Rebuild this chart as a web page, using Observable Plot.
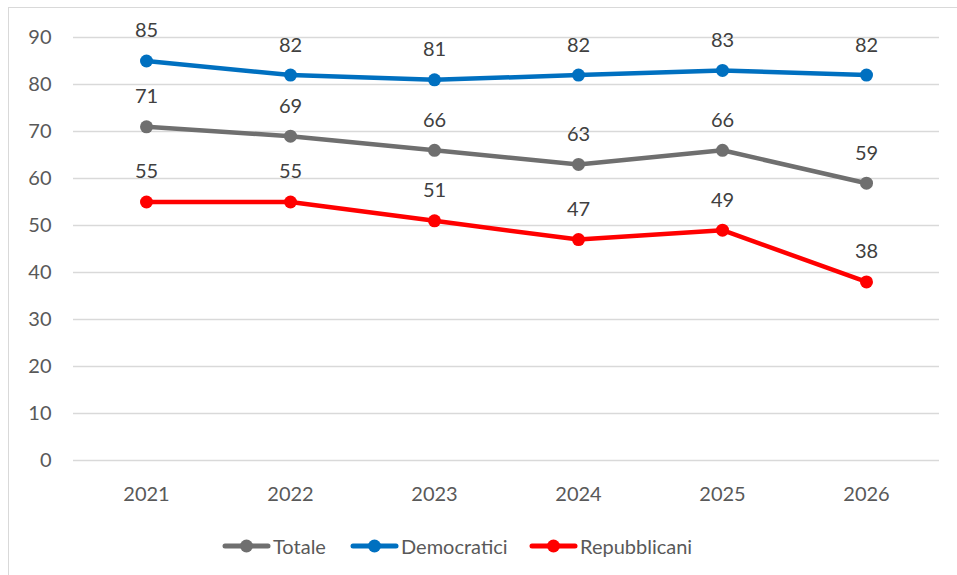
<!DOCTYPE html>
<html><head><meta charset="utf-8">
<script src="https://cdn.jsdelivr.net/npm/d3@7"></script>
<script src="https://cdn.jsdelivr.net/npm/@observablehq/plot@0.6"></script>
<style>
body{margin:0;background:#fff;font-family:Lato,"Open Sans",sans-serif;}
#frame{position:absolute;left:8px;top:7px;width:1100px;height:700px;border:1px solid #d9d9d9;box-sizing:border-box;}
#chart{position:absolute;left:0;top:0;}
#legend{position:absolute;left:0;top:534px;width:957px;height:24px;}
.item{position:absolute;top:0;display:flex;align-items:center;font-size:20px;color:#595959;}
</style></head>
<body>
<div id="frame"></div>
<div id="chart"></div>
<div id="legend"></div>
<script>
const years = ["2021","2022","2023","2024","2025","2026"];
const seriesNames = ["Totale","Democratici","Repubblicani"];
const totale = [71,69,66,63,66,59];
const democratici = [85,82,81,82,83,82];
const repubblicani = [55,55,51,47,49,38];
const colors = ["#6f6f6f","#0070c0","#ff0000"];
const yTicks = [0,10,20,30,40,50,60,70,80,90];

const valuesBySeries = [totale, democratici, repubblicani];
const data = [];
seriesNames.forEach((s,i)=>years.forEach((y,j)=>data.push({series:s, year:y, value:valuesBySeries[i][j]})));

const plot = Plot.plot({
  width:957, height:520,
  marginLeft:73, marginRight:18, marginTop:37, marginBottom:60,
  style:{fontFamily:"Lato, 'Open Sans', sans-serif", fontSize:"20px", color:"#595959", background:"transparent"},
  x:{type:"point", domain:years, padding:0.5, label:null},
  y:{domain:[0,90], label:null},
  color:{domain:seriesNames, range:colors},
  marks:[
    Plot.gridY(yTicks,{stroke:"#d9d9d9", strokeOpacity:1, strokeWidth:1.5}),
    Plot.axisX({tickSize:0, tickPadding:26, fontSize:20, fill:"#595959"}),
    Plot.axisY({ticks:yTicks, tickSize:0, tickPadding:22, fontSize:20, fill:"#595959"}),
    Plot.line(data,{x:"year", y:"value", z:"series", stroke:"series", strokeWidth:4.5}),
    Plot.dot(data,{x:"year", y:"value", fill:"series", r:6.5}),
    Plot.text(data,{x:"year", y:"value", text:d=>String(d.value), dy:-30, fill:"#404040", fontSize:20})
  ]
});
document.getElementById("chart").appendChild(plot);

const legendPos = [222, 350, 529];
const leg = document.getElementById("legend");
seriesNames.forEach((s,i)=>{
  const div = document.createElement("div");
  div.className="item";
  div.style.left = legendPos[i]+"px";
  div.innerHTML = `<svg width="49" height="24"><line x1="3" y1="12" x2="46" y2="12" stroke="${colors[i]}" stroke-width="5" stroke-linecap="round"/><circle cx="24.5" cy="12" r="6.5" fill="${colors[i]}"/></svg><span style="margin-left:2px">${s}</span>`;
  leg.appendChild(div);
});
</script>
</body></html>
